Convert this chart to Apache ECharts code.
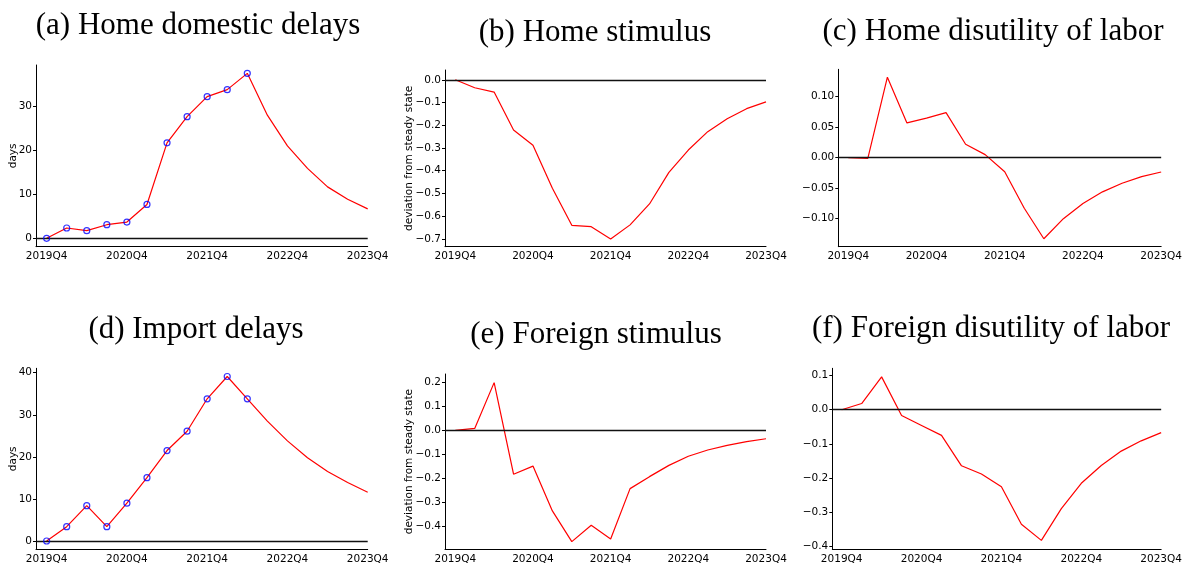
<!DOCTYPE html>
<html>
<head>
<meta charset="utf-8">
<script src="https://cdn.jsdelivr.net/npm/echarts@6/dist/echarts.min.js"></script>
<style>
html, body { margin: 0; padding: 0; background: #fff; }
#chart { width: 1185px; height: 565px; }
</style>
</head>
<body>
<div id="chart"></div>
<script>
// quarters on the x axis, one per point
var quarters = ['2019Q4', '2020Q1', '2020Q2', '2020Q3', '2020Q4', '2021Q1', '2021Q2', '2021Q3',
    '2021Q4', '2022Q1', '2022Q2', '2022Q3', '2022Q4', '2023Q1', '2023Q2', '2023Q3', '2023Q4'];
var xTickPos = [0, 4, 8, 12, 16];

// series values
var homeDelays = [0, 2.35, 1.75, 3.1, 3.7, 7.7, 21.7, 27.65, 32.2, 33.8, 37.5, 28.0, 21.0, 15.9, 11.7, 8.9, 6.7];
var homeStimulus = [0, -0.035, -0.054, -0.221, -0.288, -0.477, -0.640, -0.646, -0.700, -0.638, -0.546,
    -0.407, -0.309, -0.228, -0.171, -0.127, -0.097];
var homeLabor = [0, -0.001, 0.132, 0.057, 0.065, 0.074, 0.022, 0.005, -0.023, -0.083, -0.133,
    -0.100, -0.075, -0.056, -0.042, -0.031, -0.0235];
var importDelays = [0, 3.4, 8.4, 3.4, 9.0, 15.05, 21.5, 26.1, 33.8, 39.1, 33.8, 28.5, 23.8, 19.8, 16.5, 13.9, 11.6];
var foreignStimulus = [0, 0.008, 0.199, -0.183, -0.149, -0.336, -0.464, -0.396, -0.453, -0.243, -0.193,
    -0.146, -0.108, -0.082, -0.0625, -0.047, -0.035];
var foreignLabor = [0, 0.018, 0.096, -0.017, -0.046, -0.075, -0.164, -0.188, -0.225, -0.335, -0.382,
    -0.289, -0.215, -0.163, -0.121, -0.091, -0.067];
var observedCount = 11; // blue circles on the first 11 quarters

// y tick values
var yTicksA = [0, 10, 20, 30];
var yTicksB = [0, -0.1, -0.2, -0.3, -0.4, -0.5, -0.6, -0.7];
var yTicksC = [0.10, 0.05, 0, -0.05, -0.10];
var yTicksD = [0, 10, 20, 30, 40];
var yTicksE = [0.2, 0.1, 0, -0.1, -0.2, -0.3, -0.4];
var yTicksF = [0.1, 0, -0.1, -0.2, -0.3, -0.4];

var panels = [
    { title: '(a) Home domestic delays', tx: 198, ty: 26, data: homeDelays, ticks: yTicksA, dec: 0,
      name: 'days', gap: 17, markers: true,
      grid: [36, 65, 331.7, 181.7], xmin: -0.53, ymin: -1.9, ymax: 39.4 },
    { title: '(b) Home stimulus', tx: 595, ty: 33, data: homeStimulus, ticks: yTicksB, dec: 1,
      name: 'deviation from steady state', gap: 30, markers: false,
      grid: [445, 70, 321, 176.7], xmin: -0.53, ymin: -0.734, ymax: 0.043 },
    { title: '(c) Home disutility of labor', tx: 993, ty: 32, data: homeLabor, ticks: yTicksC, dec: 2,
      name: '', gap: 0, markers: false,
      grid: [838.3, 69.3, 324, 177.4], xmin: -0.51, ymin: -0.146, ymax: 0.145 },
    { title: '(d) Import delays', tx: 196, ty: 330, data: importDelays, ticks: yTicksD, dec: 0,
      name: 'days', gap: 17, markers: true,
      grid: [36, 368.3, 331.7, 181], xmin: -0.53, ymin: -1.97, ymax: 41.05 },
    { title: '(e) Foreign stimulus', tx: 596, ty: 334.5, data: foreignStimulus, ticks: yTicksE, dec: 1,
      name: 'deviation from steady state', gap: 30, markers: false,
      grid: [445, 374, 321, 175.3], xmin: -0.53, ymin: -0.496, ymax: 0.235 },
    { title: '(f) Foreign disutility of labor', tx: 991, ty: 329, data: foreignLabor, ticks: yTicksF, dec: 1,
      name: '', gap: 0, markers: false,
      grid: [832.3, 368.3, 330, 181], xmin: -0.47, ymin: -0.408, ymax: 0.121 }
];

var tickFont = { fontFamily: 'DejaVu Sans', fontSize: 10.5, color: '#000' };

function fmt(dec) {
    return function (v) {
        return (+v).toFixed(dec).replace('-', '\u2212');
    };
}

var option = {
    animation: false,
    backgroundColor: '#fff',
    grid: [], xAxis: [], yAxis: [], series: [], graphic: []
};

panels.forEach(function (p, i) {
    option.grid.push({ left: p.grid[0], top: p.grid[1], width: p.grid[2], height: p.grid[3], containLabel: false });
    option.graphic.push({
        type: 'text', x: p.tx, y: p.ty, silent: true,
        style: { text: p.title, font: '31px "Liberation Serif"', fill: '#000', textAlign: 'center', textVerticalAlign: 'middle' }
    });
    option.xAxis.push({
        type: 'value', gridIndex: i, min: p.xmin, max: 16,
        axisLine: { show: true, onZero: false, lineStyle: { color: '#000', width: 1 } },
        axisTick: { show: false },
        splitLine: { show: false },
        axisLabel: Object.assign({
            customValues: xTickPos, margin: 4, hideOverlap: false,
            formatter: function (v) { return quarters[Math.round(v)]; }
        }, tickFont)
    });
    option.yAxis.push({
        type: 'value', gridIndex: i, min: p.ymin, max: p.ymax,
        name: p.name, nameLocation: 'middle', nameGap: p.gap, nameMoveOverlap: false,
        nameTextStyle: { fontFamily: 'DejaVu Sans', fontSize: 10.5, color: '#000' },
        axisLine: { show: true, onZero: false, lineStyle: { color: '#000', width: 1 } },
        axisTick: { show: true, customValues: p.ticks, length: 3, lineStyle: { color: '#000' } },
        splitLine: { show: false },
        axisLabel: Object.assign({ customValues: p.ticks, margin: 4, formatter: fmt(p.dec) }, tickFont)
    });
    option.series.push({
        type: 'line', xAxisIndex: i, yAxisIndex: i,
        data: p.data.map(function (v, k) { return [k, v]; }),
        showSymbol: false, symbol: 'none',
        lineStyle: { color: '#ff0000', width: 1.2 },
        markLine: {
            silent: true, symbol: 'none', label: { show: false },
            lineStyle: { color: '#111', width: 1.4, type: 'solid' },
            emphasis: { disabled: true },
            data: [{ yAxis: 0 }]
        }
    });
    if (p.markers) {
        option.series.push({
            type: 'scatter', xAxisIndex: i, yAxisIndex: i,
            data: p.data.slice(0, observedCount).map(function (v, k) { return [k, v]; }),
            symbol: 'circle', symbolSize: 6,
            itemStyle: { color: 'rgba(0,0,0,0)', borderColor: '#0000ff', borderWidth: 1.2 },
            z: 5
        });
    }
});

var chart = echarts.init(document.getElementById('chart'));
chart.setOption(option);
</script>
</body>
</html>
